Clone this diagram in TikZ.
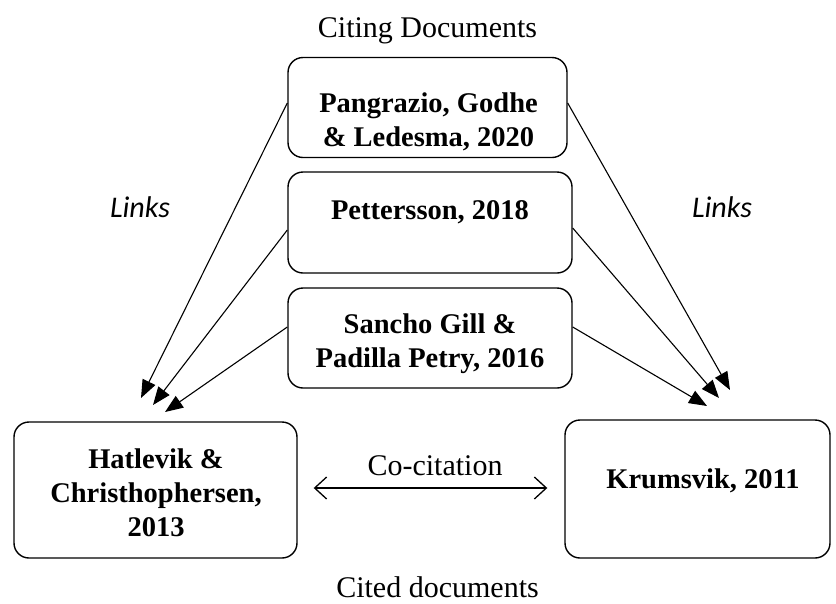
\documentclass[tikz,border=0pt]{standalone}
\usepackage{fontspec}
\setmainfont{Liberation Serif}
\newfontfamily\linksfont{Carlito}
\usetikzlibrary{arrows.meta}
\begin{document}
\begin{tikzpicture}[x=1pt,y=-1pt,
  doc/.style={draw, line width=1.4pt, rounded corners=15pt, inner sep=0pt},
  cite/.style={-{Triangle[length=18pt,width=14pt]}, line width=1.1pt},
  cocite/.style={{Straight Barb[length=12pt,width=22pt]}-{Straight Barb[length=12pt,width=22pt]}, line width=1.3pt},
  boxtext/.style={font=\fontsize{28.5}{34}\selectfont\bfseries, inner sep=0pt, anchor=base},
  caption/.style={font=\fontsize{30}{36}\selectfont, inner sep=0pt, anchor=base},
  linklabel/.style={font=\linksfont\itshape\fontsize{30}{36}\selectfont, inner sep=0pt, anchor=base}]
\useasboundingbox (0,0) rectangle (836,603);

% citing documents
\node[doc, minimum width=279pt, minimum height=100pt] (pan) at (427.5,107.5) {};
\node[doc, minimum width=284pt, minimum height=101pt] (pet) at (430,222.5) {};
\node[doc, minimum width=284pt, minimum height=100pt] (san) at (430,338) {};
% cited documents
\node[doc, minimum width=283pt, minimum height=136pt] (hat) at (155.5,490) {};
\node[doc, minimum width=265pt, minimum height=138pt] (kru) at (697.5,489) {};

% box texts
\node[boxtext] (pan1) at (428.5,112) {Pangrazio, Godhe};
\node[boxtext] (pan2) at (428.5,146) {\& Ledesma, 2020};
\node[boxtext] (pet1) at (430,219) {Pettersson, 2018};
\node[boxtext] (san1) at (430,333) {Sancho Gill \&};
\node[boxtext] (san2) at (430,367) {Padilla Petry, 2016};
\node[boxtext] (hat1) at (156,468) {Hatlevik \&};
\node[boxtext] (hat2) at (156,502) {Christhophersen,};
\node[boxtext] (hat3) at (156,536) {2013};
\node[boxtext] (kru1) at (703,488) {Krumsvik, 2011};

% captions
\node[caption] (citing) at (427.5,37) {Citing Documents};
\node[caption] (cited) at (437.5,597) {Cited documents};
\node[caption] (cocap) at (435,475) {Co-citation};
\node[linklabel] (linksL) at (140,217) {Links};
\node[linklabel] (linksR) at (722,217) {Links};

% arrow ends above the cited documents
\coordinate (hA) at (141,398);
\coordinate (hB) at (153,405);
\coordinate (hC) at (165,412);
\coordinate (kA) at (730,390);
\coordinate (kB) at (719,398);
\coordinate (kC) at (707,406);

% citation links
\draw[cite] ([yshift=4.5pt]pan.west) -- (hA);
\draw[cite] ([yshift=-7.5pt]pet.west) -- (hB);
\draw[cite] ([yshift=11pt]san.west) -- (hC);
\draw[cite] ([yshift=4.5pt]pan.east) -- (kA);
\draw[cite] ([yshift=-5.5pt]pet.east) -- (kB);
\draw[cite] ([yshift=11pt]san.east) -- (kC);

% co-citation
\draw[cocite] ([xshift=16pt,yshift=2pt]hat.east) -- ([xshift=-17pt,yshift=1pt]kru.west);
\end{tikzpicture}
\end{document}
